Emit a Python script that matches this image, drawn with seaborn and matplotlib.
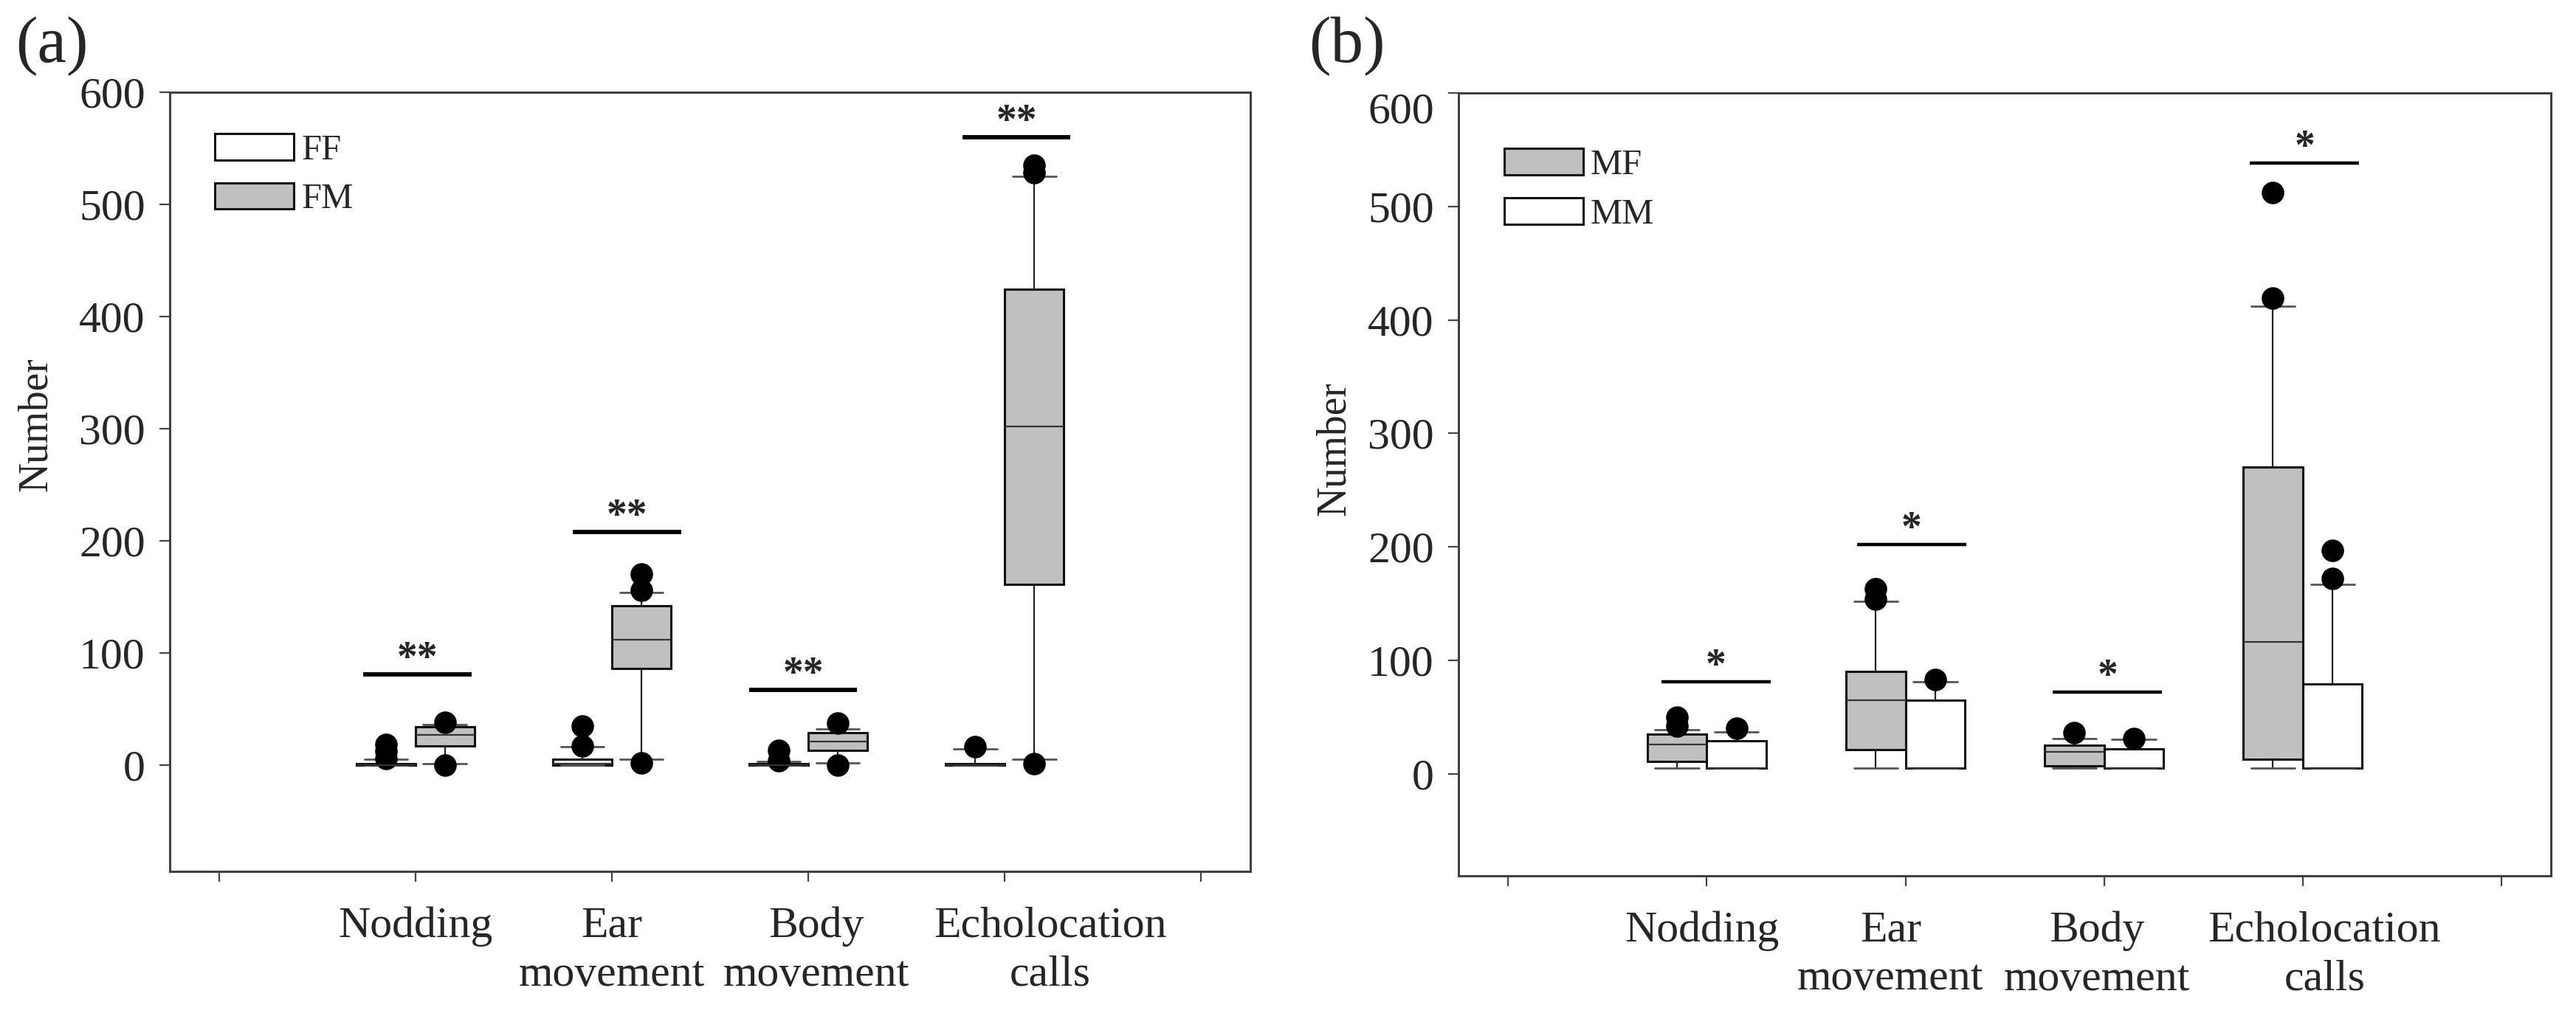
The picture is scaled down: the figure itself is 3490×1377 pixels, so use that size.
import matplotlib.pyplot as plt
import seaborn as sns
from matplotlib.patches import Patch

categories = ["Nodding", "Ear\nmovement", "Body\nmovement", "Echolocation\ncalls"]

# (a) box summaries: FF (white) and FM (grey)
ff_whislo = [0, 0, 0, 0]
ff_q1 = [0, 0, 0, 0]
ff_med = [0, 1, 0, 0]
ff_q3 = [1, 5, 1, 1]
ff_whishi = [5, 16, 3, 14]
ff_fliers = [[6, 12, 18], [17, 35], [4, 13], [16]]

fm_whislo = [1, 5, 2, 5]
fm_q1 = [17, 86, 13, 161]
fm_med = [27, 112, 21, 302]
fm_q3 = [34, 142, 29, 424]
fm_whishi = [36, 154, 32, 525]
fm_fliers = [[0, 38], [2, 156, 170], [0, 37], [1, 528, 535]]

sig_a_y = [81, 208, 67, 560]
sig_a_txt = ["**", "**", "**", "**"]

# (b) MF (grey) and MM (white)
mf_whislo = [5, 5, 5, 5]
mf_q1 = [11, 21, 7, 13]
mf_med = [26, 65, 19, 116]
mf_q3 = [35, 90, 25, 270]
mf_whishi = [39, 152, 31, 412]
mf_fliers = [[42, 50], [154, 163], [36], [419, 512]]

mm_whislo = [5, 5, 5, 5]
mm_q1 = [5, 5, 5, 5]
mm_med = [5, 5, 5, 5]
mm_q3 = [29, 65, 22, 79]
mm_whishi = [37, 81, 30, 167]
mm_fliers = [[40], [83], [31], [172, 197]]

sig_b_y = [81, 202, 72, 538]
sig_b_txt = ["*", "*", "*", "*"]

GREY = "#c0c0c0"
WHITE = "#ffffff"


def make_stats(whislo, q1, med, q3, whishi, fliers):
    return [dict(whislo=a, q1=b, med=c, q3=d, whishi=e, fliers=f)
            for a, b, c, d, e, f in zip(whislo, q1, med, q3, whishi, fliers)]


def draw_panel(ax, left, right, colors, names, sig_y, sig_txt, sig_dx, label_x,
               ylim, legend_y, sig_lw):
    base = list(range(1, len(categories) + 1))
    for stats, color, shift in zip([left, right], colors, [-0.15, 0.15]):
        ax.bxp(stats, [p + shift for p in base], widths=0.3, patch_artist=True,
               boxprops=dict(facecolor=color, edgecolor="#111111", linewidth=2.2),
               medianprops=dict(color="#333333", linewidth=1.6),
               whiskerprops=dict(color="#222222", linewidth=1.6),
               capprops=dict(color="#555555", linewidth=2.0),
               flierprops=dict(marker="o", markerfacecolor="black",
                               markeredgecolor="black", markersize=21),
               capwidths=0.22, manage_ticks=False)

    # significance bars
    for p, y, txt, dx in zip(base, sig_y, sig_txt, sig_dx):
        c = p + dx
        ax.plot([c - 0.275, c + 0.275], [y, y], color="black", linewidth=sig_lw,
                solid_capstyle="butt")
        ax.text(c, y - 4, txt, ha="center", va="bottom", fontsize=40,
                fontweight="bold")

    ax.set_xlim(-0.25, 5.25)
    ax.set_ylim(*ylim)
    ax.set_yticks(range(0, 601, 100))
    ax.set_xticks(range(0, 6))
    ax.set_xticklabels([])
    ax.xaxis.remove_overlapping_locs = False
    ax.set_xticks(label_x, categories, minor=True)
    ax.tick_params(axis="x", which="minor", length=0, pad=34, labelsize=43)
    ax.tick_params(axis="both", which="major", direction="out", length=10,
                   width=1.6, color="#444444", labelsize=43, pad=14)
    for t in ax.get_xticklabels(minor=True):
        t.set_linespacing(1.3)
    for s in ax.spines.values():
        s.set_linewidth(2.2)
        s.set_color("#404040")
    ax.set_ylabel("Number", fontsize=40)

    handles = [Patch(facecolor=c, edgecolor="#111111", linewidth=2.2) for c in colors]
    ax.legend(handles, names, loc="upper left", bbox_to_anchor=(0.042, legend_y),
              frameon=False, fontsize=35, handlelength=2.2, handleheight=0.75,
              handletextpad=0.2, labelspacing=0.45, borderpad=0, borderaxespad=0)


sns.set_theme(style="ticks")
plt.rcParams["font.family"] = ["Liberation Serif", "DejaVu Serif"]

fig = plt.figure(figsize=(34.9, 13.77), dpi=100)
ax_a = fig.add_axes([0.0659, 0.1423, 0.4195, 0.7669])
ax_b = fig.add_axes([0.5662, 0.1380, 0.4241, 0.7705])

draw_panel(ax_a,
           make_stats(ff_whislo, ff_q1, ff_med, ff_q3, ff_whishi, ff_fliers),
           make_stats(fm_whislo, fm_q1, fm_med, fm_q3, fm_whishi, fm_fliers),
           [WHITE, GREY], ["FF", "FM"], sig_a_y, sig_a_txt,
           [0.01, 0.077, -0.026, 0.06], [1.0, 2.0, 3.04, 4.23], (-95, 600), 0.947, 4.2)
draw_panel(ax_b,
           make_stats(mf_whislo, mf_q1, mf_med, mf_q3, mf_whishi, mf_fliers),
           make_stats(mm_whislo, mm_q1, mm_med, mm_q3, mm_whishi, mm_fliers),
           [GREY, WHITE], ["MF", "MM"], sig_b_y, sig_b_txt,
           [0.047, 0.03, 0.018, 0.01], [0.975, 1.925, 2.965, 4.11], (-90, 600), 0.929, 3.2)

ax_a.yaxis.set_label_coords(-0.106, 0.574)
ax_b.yaxis.set_label_coords(-0.096, 0.546)
ax_b.get_yticklabels()[-1].set_va("top")

fig.text(0.006, 0.984, "(a)", fontsize=64, ha="left", va="top")
fig.text(0.508, 0.984, "(b)", fontsize=64, ha="left", va="top")

fig.savefig("out.png", dpi=100)
